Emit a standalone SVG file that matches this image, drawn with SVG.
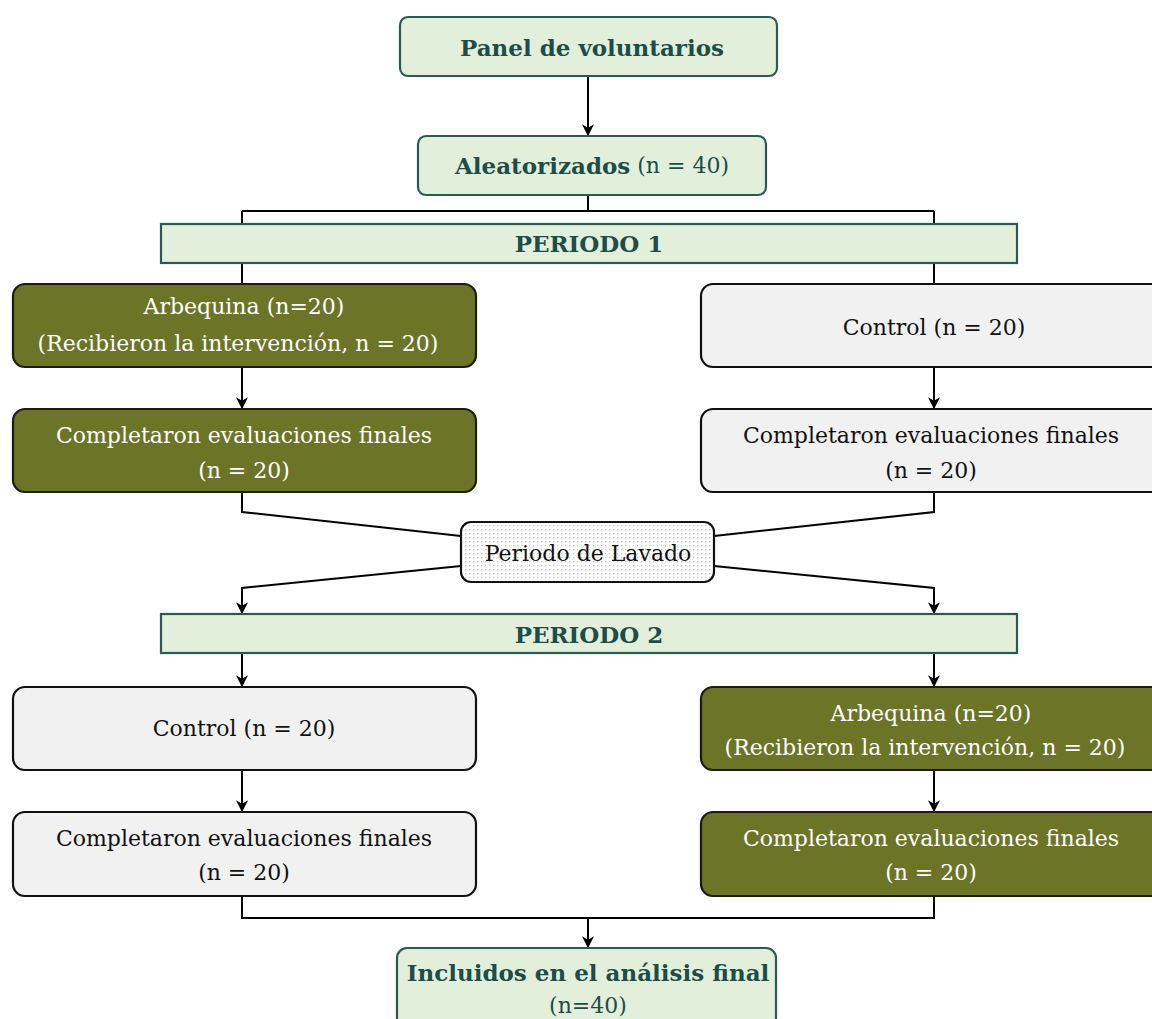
<svg xmlns="http://www.w3.org/2000/svg" width="1152" height="1019" viewBox="0 0 1152 1019">
  <style>
    .hdr { fill: #e2efda; stroke: #2b5a52; stroke-width: 2.2; }
    .olive { fill: #6b7427; stroke: #1c1c0c; stroke-width: 2.2; }
    .grey { fill: #f1f1f1; stroke: #111; stroke-width: 2.2; }
    .wash { fill: url(#dots); stroke: #111; stroke-width: 2.2; }
    .t { font-family: "DejaVu Serif", "Liberation Serif", serif; font-size: 22px; text-anchor: middle; dominant-baseline: central; }
    .tb { font-weight: bold; font-size: 23px; fill: #1e4d47; }
    .tw { fill: #ffffff; }
    .tk { fill: #111; }
    .tn { fill: #1e4d47; font-weight: normal; font-size: 22px; }
    .ln { fill: none; stroke: #000; stroke-width: 2; }
  </style>
  <defs>
    <marker id="arrB" viewBox="0 0 10 10" refX="9" refY="5" markerWidth="12" markerHeight="12" markerUnits="userSpaceOnUse" orient="auto">
      <path d="M0,0 L10,5 L0,10 L3,5 z" fill="#000"/>
    </marker>
    <pattern id="dots" width="4" height="4" patternUnits="userSpaceOnUse">
      <rect width="4" height="4" fill="#ffffff"/>
      <rect x="1" y="1" width="1.2" height="1.2" fill="#c8c8c8"/>
    </pattern>
  </defs>

  <!-- connectors -->
  <g id="connectors">
    <path class="ln" d="M588,76 V135" marker-end="url(#arrB)"/>
    <path class="ln" d="M588,195 V211 M242,211 H934 M242,211 V284 M934,211 V284"/>
    <path class="ln" d="M242,367 V408" marker-end="url(#arrB)"/>
    <path class="ln" d="M934,367 V408" marker-end="url(#arrB)"/>
    <path class="ln" d="M242,492 V512 L461,536"/>
    <path class="ln" d="M934,492 V512 L714,536"/>
    <path class="ln" d="M461,566 L242,588 V613" marker-end="url(#arrB)"/>
    <path class="ln" d="M714,566 L934,588 V613" marker-end="url(#arrB)"/>
    <path class="ln" d="M242,653 V686" marker-end="url(#arrB)"/>
    <path class="ln" d="M934,653 V686" marker-end="url(#arrB)"/>
    <path class="ln" d="M242,770 V811" marker-end="url(#arrB)"/>
    <path class="ln" d="M934,770 V811" marker-end="url(#arrB)"/>
    <path class="ln" d="M242,896 V918 H934 V896 M588,918 V947" marker-end="url(#arrB)"/>
  </g>

  <g id="panel">
    <rect class="hdr" x="400" y="17" width="377" height="59" rx="8"/>
    <text class="t tb" x="592" y="47">Panel de voluntarios</text>
  </g>

  <g id="aleatorizados">
    <rect class="hdr" x="418" y="136" width="348" height="59" rx="8"/>
    <text class="t tb" x="592" y="165">Aleatorizados<tspan class="tn"> (n = 40)</tspan></text>
  </g>

  <g id="periodo1">
    <rect class="hdr" x="161" y="224" width="856" height="39"/>
    <text class="t tb" x="589" y="243">PERIODO 1</text>
  </g>

  <g id="p1-arbequina">
    <rect class="olive" x="13" y="284" width="463" height="83" rx="12"/>
    <text class="t tw" x="244" y="306">Arbequina (n=20)</text>
    <text class="t tw" x="238" y="343">(Recibieron la intervención, n = 20)</text>
  </g>

  <g id="p1-control">
    <rect class="grey" x="701" y="284" width="463" height="83" rx="12"/>
    <text class="t tk" x="934" y="327">Control (n = 20)</text>
  </g>

  <g id="p1-arbequina-final">
    <rect class="olive" x="13" y="409" width="463" height="83" rx="12"/>
    <text class="t tw" x="244" y="435">Completaron evaluaciones finales</text>
    <text class="t tw" x="244" y="470">(n = 20)</text>
  </g>

  <g id="p1-control-final">
    <rect class="grey" x="701" y="409" width="463" height="83" rx="12"/>
    <text class="t tk" x="931" y="435">Completaron evaluaciones finales</text>
    <text class="t tk" x="931" y="470">(n = 20)</text>
  </g>

  <g id="lavado">
    <rect class="wash" x="461" y="522" width="253" height="60" rx="10"/>
    <text class="t tk" x="588" y="553">Periodo de Lavado</text>
  </g>

  <g id="periodo2">
    <rect class="hdr" x="161" y="614" width="856" height="39"/>
    <text class="t tb" x="589" y="634">PERIODO 2</text>
  </g>

  <g id="p2-control">
    <rect class="grey" x="13" y="687" width="463" height="83" rx="12"/>
    <text class="t tk" x="244" y="728">Control (n = 20)</text>
  </g>

  <g id="p2-arbequina">
    <rect class="olive" x="701" y="687" width="463" height="83" rx="12"/>
    <text class="t tw" x="931" y="713">Arbequina (n=20)</text>
    <text class="t tw" x="925" y="747">(Recibieron la intervención, n = 20)</text>
  </g>

  <g id="p2-control-final">
    <rect class="grey" x="13" y="812" width="463" height="84" rx="12"/>
    <text class="t tk" x="244" y="838">Completaron evaluaciones finales</text>
    <text class="t tk" x="244" y="872">(n = 20)</text>
  </g>

  <g id="p2-arbequina-final">
    <rect class="olive" x="701" y="812" width="463" height="84" rx="12"/>
    <text class="t tw" x="931" y="838">Completaron evaluaciones finales</text>
    <text class="t tw" x="931" y="872">(n = 20)</text>
  </g>

  <g id="incluidos">
    <rect class="hdr" x="397" y="948" width="379" height="80" rx="10"/>
    <text class="t tb" x="588" y="972">Incluidos en el análisis final</text>
    <text class="t tn" x="588" y="1005">(n=40)</text>
  </g>
</svg>
